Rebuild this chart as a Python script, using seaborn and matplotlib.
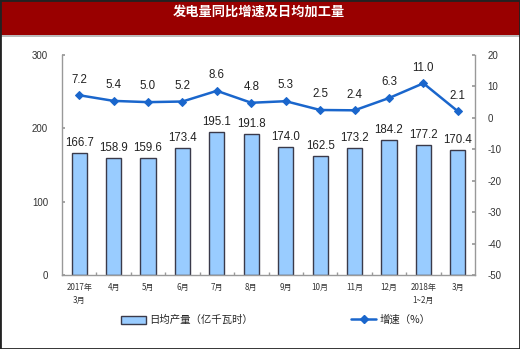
import numpy as np
import pandas as pd
import matplotlib
matplotlib.use("Agg")
import matplotlib.pyplot as plt
import seaborn as sns
from matplotlib.patches import Rectangle
from matplotlib.lines import Line2D
from matplotlib.patches import Patch

categories = ["2017年\n3月", "4月", "5月", "6月", "7月", "8月", "9月", "10月", "11月", "12月", "2018年\n1~2月", "3月"]
output_vals = [166.7, 158.9, 159.6, 173.4, 195.1, 191.8, 174.0, 162.5, 173.2, 184.2, 177.2, 170.4]
growth_vals = [7.2, 5.4, 5.0, 5.2, 8.6, 4.8, 5.3, 2.5, 2.4, 6.3, 11.0, 2.1]
left_ticks = [0, 100, 200, 300]
right_ticks = [20, 10, 0, -10, -20, -30, -40, -50]
title = "发电量同比增速及日均加工量"
bar_label = "日均产量（亿千瓦时）"
line_label = "增速（%）"

sns.set_theme(style="white")
plt.rcParams['font.family'] = ['Noto Sans CJK SC', 'DejaVu Sans']
plt.rcParams['axes.unicode_minus'] = False

fig = plt.figure(figsize=(5.2, 3.49), dpi=100)
fig.patch.set_facecolor("white")

# title bar
fig.patches.append(Rectangle((0, 1 - 35 / 349), 1, 35 / 349, transform=fig.transFigure,
                             facecolor="#990000", edgecolor="none", zorder=0))
fig.patches.append(Rectangle((0, 1 - 36.5 / 349), 1, 1.5 / 349, transform=fig.transFigure,
                             facecolor="#BBBBBB", edgecolor="none", zorder=0))
fig.text(0.498, 1 - 12 / 349, title, color="white", fontsize=9.5, fontweight="bold",
         ha="center", va="center")

ax = fig.add_axes([62 / 520, 1 - 275 / 349, 413 / 520, 220 / 349])
df = pd.DataFrame({"cat": categories, "val": output_vals})
sns.barplot(data=df, x="cat", y="val", ax=ax, color="#99CCFF", edgecolor="#3A3A4A",
            linewidth=1.0, width=0.44, saturation=1)
ax.set_ylim(0, 300)
ax.set_xlim(-0.5, 11.5)
ax.set_yticks(left_ticks)
ax.set_xlabel("")
ax.set_ylabel("")
for i, v in enumerate(output_vals):
    ax.annotate(f"{v:.1f}", (i, v), xytext=(0, 3), textcoords="offset points",
                ha="center", va="bottom", fontsize=8.3, color="#222222",
                family=["Liberation Sans", "DejaVu Sans"])

ax2 = ax.twinx()
sns.lineplot(x=np.arange(len(growth_vals)), y=growth_vals, ax=ax2, color="#1A66CC",
             linewidth=1.8, marker="D", markersize=4.5, markeredgecolor="#1A66CC")
ax2.set_ylim(-50, 20)
ax2.set_yticks(right_ticks)
ax2.set_xlim(-0.5, 11.5)
for i, v in enumerate(growth_vals):
    ax2.annotate(f"{v:.1f}", (i, v), xytext=(0, 7), textcoords="offset points",
                 ha="center", va="bottom", fontsize=8.3, color="#222222",
                 family=["Liberation Sans", "DejaVu Sans"])

for a in (ax, ax2):
    for s in a.spines.values():
        s.set_visible(False)
ax.spines["left"].set_visible(True)
ax.spines["bottom"].set_visible(True)
ax2.spines["right"].set_visible(True)
for s in (ax.spines["left"], ax.spines["bottom"], ax2.spines["right"]):
    s.set_color("#999999")
    s.set_linewidth(1.0)

ax.tick_params(axis="y", direction="in", length=2, color="#999999", labelsize=7,
               labelcolor="#333333", pad=10, left=True)
ax2.tick_params(axis="y", direction="in", length=2, color="#999999", labelsize=7,
                labelcolor="#333333", pad=9, right=True)
ax.tick_params(axis="x", length=0, labelsize=5.8, labelcolor="#333333", pad=6)
ax.set_xticks(np.arange(len(categories)))
ax.set_xticklabels(categories, linespacing=1.5)
ax.set_xticks(np.arange(0.5, 11.5, 1.0), minor=True)
ax.tick_params(axis="x", which="minor", direction="in", length=2, color="#999999", bottom=True)
ax.grid(False)
ax2.grid(False)
for lab in ax.get_yticklabels() + ax2.get_yticklabels():
    lab.set_family(["Liberation Sans", "DejaVu Sans"])

handles = [Patch(facecolor="#99CCFF", edgecolor="#3A3A4A", linewidth=1.0),
           Line2D([0], [0], color="#1A66CC", linewidth=1.8, marker="D", markersize=4)]
fig.legend(handles, [bar_label, line_label], loc="center", bbox_to_anchor=(0.530, 1 - 320 / 349),
           ncol=2, frameon=False, fontsize=7.5, columnspacing=9.5, handlelength=2.4,
           handletextpad=0.3, handleheight=0.8)

# outer frame
fig.patches.append(Rectangle((0, 0), 1, 1, transform=fig.transFigure, facecolor="none",
                             edgecolor="#222222", linewidth=2.0, zorder=10))

fig.savefig("out.png", dpi=100)
